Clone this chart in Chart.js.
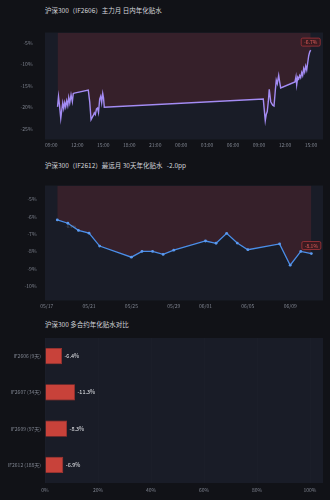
<!DOCTYPE html>
<html><head><meta charset="utf-8">
<script src="https://cdn.jsdelivr.net/npm/chart.js@4.4.1/dist/chart.umd.min.js"></script>
<style>
html,body{margin:0;padding:0;background:#111217;width:330px;height:500px;overflow:hidden;font-family:"Noto Sans CJK SC","Noto Sans",sans-serif;}
.t{position:absolute;left:45px;font-size:6.5px;color:#d4d6dc;white-space:pre;line-height:1;}
.w{position:absolute;left:0;width:330px;}
canvas{display:block;}
</style></head><body>
<div class="t" style="top:6.5px">沪深300（IF2606）主力月 日内年化贴水</div>
<div class="w" style="top:17px;height:138px"><canvas id="c1" width="330" height="138"></canvas></div>
<div class="t" style="top:162px">沪深300（IF2612）最远月 30天年化贴水   -2.0pp</div>
<div class="w" style="top:174px;height:138px"><canvas id="c2" width="330" height="138"></canvas></div>
<div class="t" style="top:320.5px">沪深300 多合约年化贴水对比</div>
<div class="w" style="top:331px;height:164px"><canvas id="c3" width="330" height="164"></canvas></div>
<script>
// ---- Chart 1: IF2606 intraday annualized discount (hours since day-1 00:00) ----
const intradayHours = [
  9.72, 9.83, 9.95, 10.09, 10.20, 10.32, 10.43, 10.55, 10.66, 10.78, 10.90, 11.01, 11.13, 11.28, 11.43, 11.54, 11.66,
  13.27, 13.44, 13.59, 13.74, 13.85, 13.97, 14.08, 14.22, 14.34, 14.45, 14.59, 14.71, 14.82, 14.94, 15.03, 15.12,
  33.49, 33.72, 33.84, 33.95, 34.07, 34.18, 34.35, 34.42, 34.58, 34.73, 34.88, 34.99, 35.11, 35.27, 35.39, 35.50,
  37.15, 37.27, 37.35, 37.47, 37.58, 37.70, 37.81, 37.93, 38.04, 38.16, 38.27, 38.39, 38.51, 38.62, 38.74, 38.86, 38.97
];
const intradayDiscount = [
  -19.9, -17.5, -19.6, -22.6, -20.8, -19.0, -20.3, -18.9, -19.9, -18.5, -19.6, -17.7, -19.0, -17.1, -18.7, -16.8, -16.7,
  -16.0, -18.8, -22.9, -22.3, -21.9, -21.3, -21.7, -20.4, -20.2, -21.2, -18.1, -17.4, -18.9, -16.8, -17.8, -20.0,
  -18.1, -23.1, -21.6, -21.0, -18.7, -15.8, -18.7, -19.0, -19.5, -19.7, -16.1, -13.7, -14.5, -12.6, -14.2, -15.5,
  -14.1, -12.9, -14.8, -13.0, -13.4, -12.6, -13.1, -11.9, -12.6, -11.0, -11.8, -10.4, -11.3, -9.7, -8.0, -7.1, -6.7
];
const intradayTickHours = [9, 12, 15, 18, 21, 24, 27, 30, 33, 36, 39];
const intradayTickLabels = ['09:00','12:00','15:00','18:00','21:00','00:00','03:00','06:00','09:00','12:00','15:00'];
const intradayYTicks = [-25, -20, -15, -10, -5];

// ---- Chart 2: IF2612 30-day annualized discount ----
const farDates = ['05/18','05/19','05/20','05/21','05/22','05/25','05/26','05/27','05/28','05/29',
                  '06/01','06/02','06/03','06/04','06/05','06/08','06/09','06/10','06/11'];
const farDiscount = [-6.19, -6.38, -6.79, -6.95, -7.69, -8.33, -8.00, -8.00, -8.17, -7.93,
                     -7.40, -7.53, -6.96, -7.52, -7.90, -7.57, -8.79, -8.00, -8.12];
const farTickLabels = ['05/17','05/21','05/25','05/29','06/01','06/05','06/09'];
const farYTicks = [-10, -9, -8, -7, -6, -5];

// ---- Chart 3: contract comparison ----
const contractLabels = ['IF2606 (9天)', 'IF2607 (34天)', 'IF2609 (97天)', 'IF2612 (188天)'];
const contractDiscount = [-6.4, -11.3, -8.3, -6.9];
const contractXTicks = [0, 20, 40, 60, 80, 100];

const FONT = '"Noto Sans CJK SC","Noto Sans",sans-serif';
const TICK = '#7f8490';
const PLOT_BG = '#191c27';
const FILL = '#36202a';

function dayIndex(md) {
  const [m, d] = md.split('/').map(Number);
  return (Date.UTC(2026, m - 1, d) - Date.UTC(2026, 4, 17)) / 86400000;
}

const plotBg = {
  id: 'plotBg',
  beforeDraw(chart) {
    const a = chart.chartArea, c = chart.ctx;
    c.save(); c.fillStyle = PLOT_BG; c.fillRect(a.left, a.top, a.right - a.left, a.bottom - a.top); c.restore();
  }
};

function badgePlugin(text) {
  return {
    id: 'badge',
    afterDatasetsDraw(chart) {
      const meta = chart.getDatasetMeta(0);
      const p = meta.data[meta.data.length - 1];
      const c = chart.ctx;
      const w = 19, h = 8, x = p.x - w / 2, y = p.y - 8 - h / 2;
      c.save();
      c.beginPath();
      if (c.roundRect) c.roundRect(x, y, w, h, 1.5); else c.rect(x, y, w, h);
      c.fillStyle = '#3a1b21'; c.fill();
      c.lineWidth = 0.8; c.strokeStyle = '#a8353a'; c.stroke();
      c.fillStyle = '#e8605c'; c.font = '5px ' + FONT; c.textAlign = 'center'; c.textBaseline = 'middle';
      c.fillText(text, p.x, p.y - 8 + 0.3);
      c.restore();
    }
  };
}

function fixedY(w) { return function (s) { s.width = w; }; }
function fixedH(h) { return function (s) { s.height = h; }; }

Chart.defaults.font.family = FONT;
Chart.defaults.animation = false;

// Chart 1
new Chart(document.getElementById('c1'), {
  type: 'line',
  data: {
    datasets: [{
      data: intradayHours.map((h, i) => ({ x: h, y: intradayDiscount[i] })),
      borderColor: '#a48cf4', borderWidth: 1.4, pointRadius: 0, tension: 0,
      fill: 'end', backgroundColor: FILL
    }]
  },
  options: {
    responsive: false,
    layout: { padding: { left: 0, right: 7, top: 0, bottom: 0 } },
    plugins: { legend: { display: false }, tooltip: { enabled: false } },
    scales: {
      x: {
        type: 'linear', min: 8.27, max: 40.39,
        afterBuildTicks: s => { s.ticks = intradayTickHours.map(v => ({ value: v })); },
        afterFit: fixedH(10),
        grid: { display: false, drawTicks: false }, border: { display: false },
        ticks: { autoSkip: false, maxRotation: 0, padding: 3, color: TICK, font: { size: 5 },
          callback: (v, i) => intradayTickLabels[i] }
      },
      y: {
        min: -27.5, max: -2.6,
        afterBuildTicks: s => { s.ticks = intradayYTicks.map(v => ({ value: v })); },
        afterFit: fixedY(45),
        grid: { display: false, drawTicks: false }, border: { display: false },
        ticks: { padding: 12.5, color: TICK, font: { size: 5 }, callback: v => v + '%' }
      }
    }
  },
  plugins: [plotBg, badgePlugin(intradayDiscount[intradayDiscount.length - 1].toFixed(1) + '%')]
});

// Chart 2
const ghost = {
  id: 'ghost',
  afterDatasetsDraw(chart) {
    const p = chart.getDatasetMeta(0).data[1];
    const c = chart.ctx;
    c.save(); c.fillStyle = 'rgba(150,152,162,0.45)'; c.font = '4px ' + FONT;
    c.textAlign = 'center'; c.textBaseline = 'middle';
    c.fillText(farDiscount[1].toFixed(1) + '%', p.x + 3, p.y + 3.5);
    c.restore();
  }
};
new Chart(document.getElementById('c2'), {
  type: 'line',
  data: {
    datasets: [{
      data: farDates.map((d, i) => ({ x: dayIndex(d), y: farDiscount[i] })),
      borderColor: '#4a8ee8', borderWidth: 1.3, pointRadius: 1.4, pointBorderWidth: 0,
      pointBackgroundColor: '#5b9af0', tension: 0,
      fill: 'end', backgroundColor: FILL
    }]
  },
  options: {
    responsive: false,
    layout: { padding: { left: 0, right: 7, top: 0, bottom: 0 } },
    plugins: { legend: { display: false }, tooltip: { enabled: false } },
    scales: {
      x: {
        type: 'linear', min: -0.16, max: 26.1,
        afterBuildTicks: s => { s.ticks = farTickLabels.map(d => ({ value: dayIndex(d) })); },
        afterFit: fixedH(10),
        grid: { display: false, drawTicks: false }, border: { display: false },
        ticks: { autoSkip: false, maxRotation: 0, padding: 2.7, color: TICK, font: { size: 5 },
          callback: (v, i) => farTickLabels[i] }
      },
      y: {
        min: -10.82, max: -4.21,
        afterBuildTicks: s => { s.ticks = farYTicks.map(v => ({ value: v })); },
        afterFit: fixedY(45),
        grid: { display: false, drawTicks: false }, border: { display: false },
        ticks: { padding: 8.5, color: TICK, font: { size: 5 }, callback: v => v + '%' }
      }
    }
  },
  plugins: [plotBg, ghost, badgePlugin(farDiscount[farDiscount.length - 1].toFixed(1) + '%')]
});

// Chart 3
const barLabels = {
  id: 'barLabels',
  afterDatasetsDraw(chart) {
    const c = chart.ctx;
    chart.getDatasetMeta(0).data.forEach((b, i) => {
      c.save(); c.fillStyle = '#e2e4e8'; c.font = '5.5px ' + FONT;
      c.textAlign = 'left'; c.textBaseline = 'middle';
      c.fillText(contractDiscount[i].toFixed(1) + '%', b.x + 2.5, b.y);
      c.restore();
    });
  }
};
new Chart(document.getElementById('c3'), {
  type: 'bar',
  data: {
    labels: contractLabels,
    datasets: [{
      data: contractDiscount.map(v => Math.abs(v)),
      backgroundColor: '#c8423a', borderColor: '#a9342f', borderWidth: 0.8,
      barPercentage: 0.45, categoryPercentage: 1
    }]
  },
  options: {
    indexAxis: 'y',
    responsive: false,
    layout: { padding: { left: 0, right: 7, top: 0, bottom: 0 } },
    plugins: { legend: { display: false }, tooltip: { enabled: false } },
    scales: {
      x: {
        min: 0, max: 104.9,
        afterBuildTicks: s => { s.ticks = contractXTicks.map(v => ({ value: v })); },
        afterFit: fixedH(12),
        grid: { color: 'rgba(255,255,255,0.012)', drawTicks: false }, border: { display: false },
        ticks: { autoSkip: false, maxRotation: 0, padding: 4.5, color: TICK, font: { size: 5 }, callback: v => v + '%' }
      },
      y: {
        afterFit: fixedY(45),
        grid: { display: false, drawTicks: false }, border: { display: false },
        ticks: { padding: 4, color: TICK, font: { size: 5 } }
      }
    }
  },
  plugins: [plotBg, barLabels]
});
</script>
</body></html>
